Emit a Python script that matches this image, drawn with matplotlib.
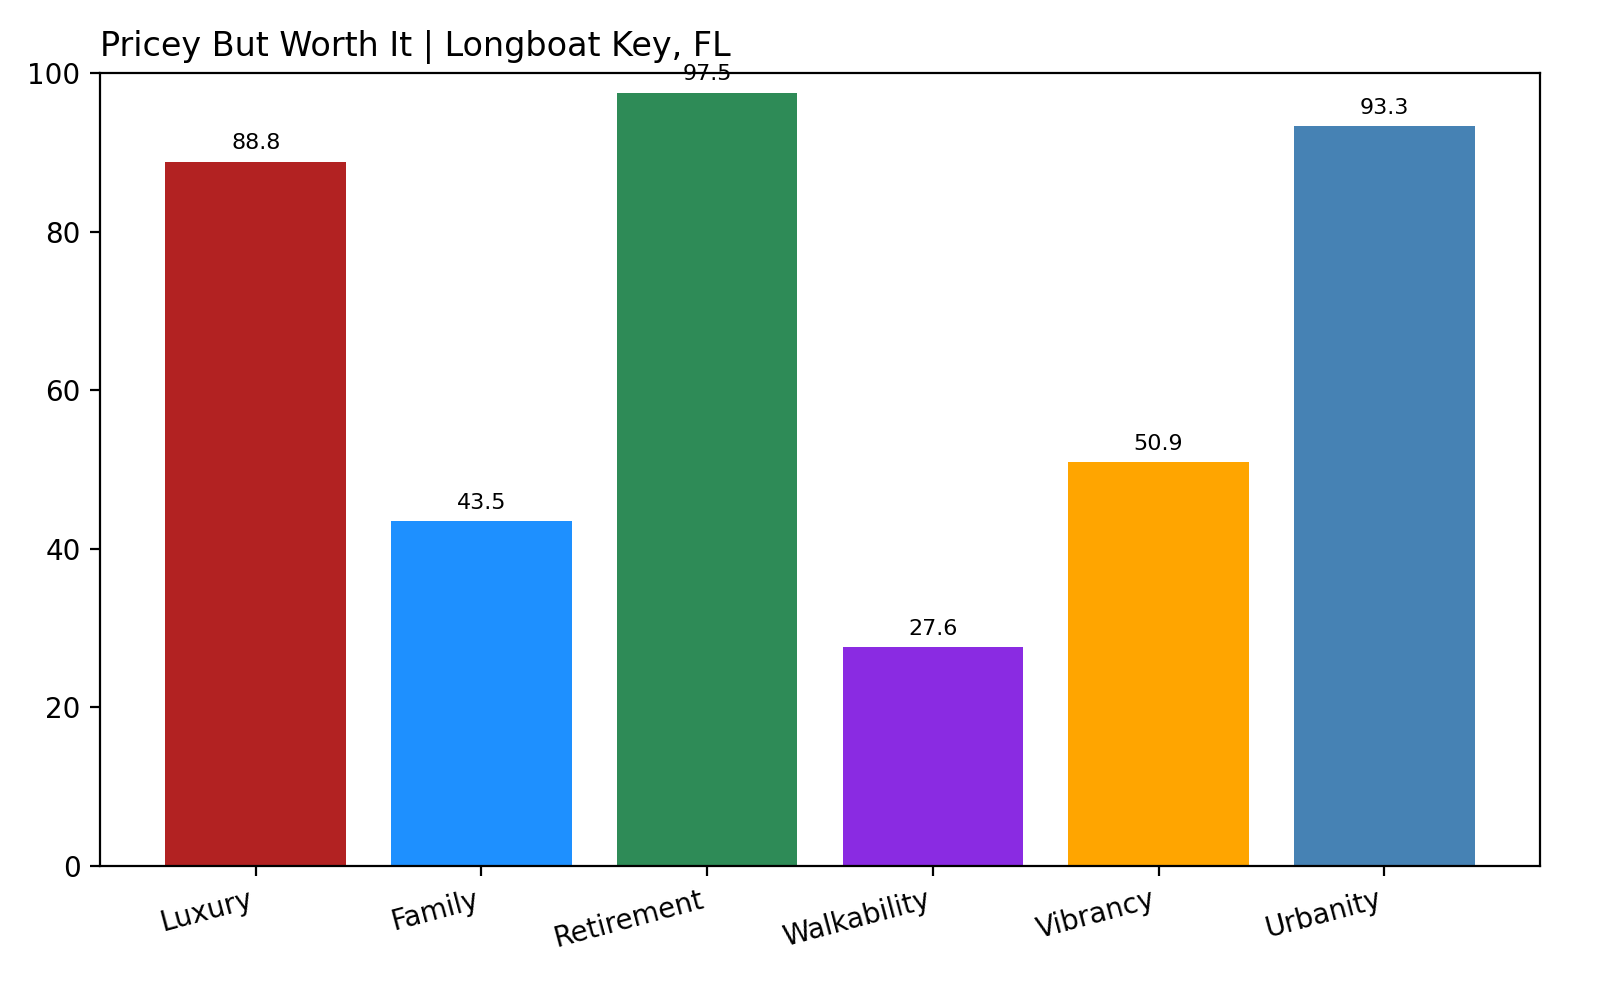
import matplotlib
matplotlib.use("Agg")
import matplotlib.pyplot as plt

categories = ["Luxury", "Family", "Retirement", "Walkability", "Vibrancy", "Urbanity"]
values = [88.8, 43.5, 97.5, 27.6, 50.9, 93.3]
colors = ["#b22222", "#1e90ff", "#2e8b57", "#8a2be2", "#ffa500", "#4682b4"]

fig = plt.figure(figsize=(8, 5), dpi=200)
ax = fig.add_axes([0.0625, 0.134, 0.9, 0.793])
bars = ax.bar(categories, values, color=colors)
for b, v in zip(bars, values):
    ax.annotate(f"{v}", (b.get_x() + b.get_width() / 2, v), xytext=(0, 3),
                textcoords="offset points", ha="center", va="bottom", fontsize=8)
ax.set_ylim(0, 100)
ax.set_title("Pricey But Worth It | Longboat Key, FL", loc="left", fontsize=12)
plt.setp(ax.get_xticklabels(), rotation=15, ha="right")
fig.savefig("out.png")
